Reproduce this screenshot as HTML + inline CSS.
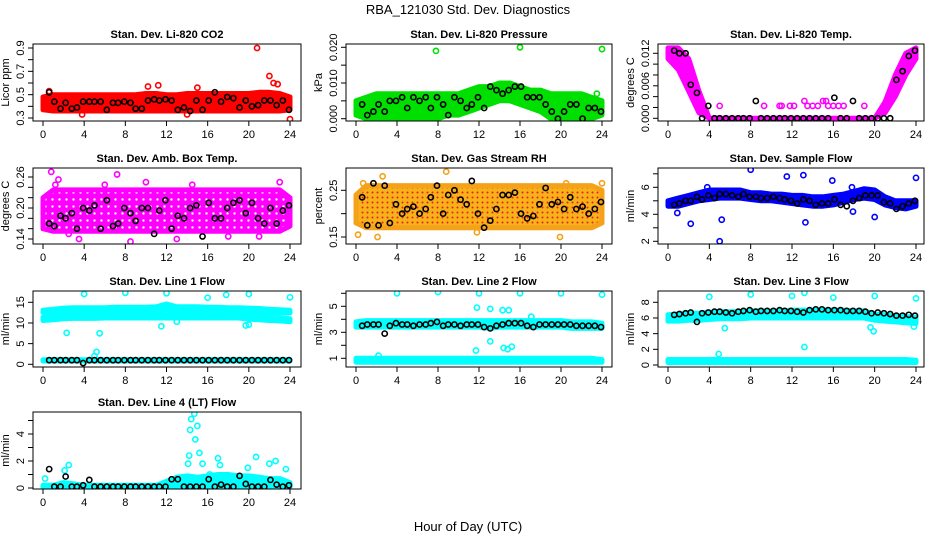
<!DOCTYPE html>
<html><head><meta charset="utf-8"><style>
body{margin:0;background:#fff;}
svg{display:block;font-family:"Liberation Sans",sans-serif;}
</style></head><body>
<svg id="chart" width="936" height="540" viewBox="0 0 936 540">
<defs>
<pattern id="pat-amb" width="7" height="7" patternUnits="userSpaceOnUse">
<rect width="7" height="7" fill="#ff00ff"/>
<circle cx="3.5" cy="3.5" r="1.2" fill="#fff"/>
</pattern>
<pattern id="pat-rh" width="5" height="5" patternUnits="userSpaceOnUse">
<rect width="5" height="5" fill="#f7b21a"/>
<circle cx="2.5" cy="2.5" r="1" fill="#e8201a"/>
</pattern>
</defs>
<rect x="0" y="0" width="936" height="540" fill="#fff"/>
<text x="468" y="14" text-anchor="middle" font-size="13">RBA_121030  Std. Dev. Diagnostics</text>
<text x="468" y="531" text-anchor="middle" font-size="13">Hour of Day (UTC)</text>
</svg>
<script>
const hours=[0,1,2,3,4,5,6,7,8,9,10,11,12,13,14,15,16,17,18,19,20,21,22,23,24];
const blackHours=[0.6,1.1,1.7,2.2,2.8,3.3,3.9,4.5,5.0,5.6,6.2,6.8,7.3,7.9,8.5,9.0,9.6,10.2,10.8,11.3,11.9,12.5,13.1,13.7,14.3,14.9,15.5,16.1,16.7,17.3,17.9,18.5,19.1,19.7,20.3,20.9,21.5,22.1,22.7,23.3,23.9];
const xTicks=[0,4,8,12,16,20,24];

const co2Lo=[0.37,0.36,0.36,0.36,0.36,0.36,0.36,0.36,0.36,0.36,0.36,0.36,0.36,0.36,0.36,0.36,0.36,0.36,0.36,0.36,0.36,0.36,0.36,0.36,0.37];
const co2Hi=[0.48,0.5,0.5,0.5,0.5,0.5,0.5,0.5,0.5,0.5,0.51,0.51,0.5,0.5,0.51,0.51,0.51,0.51,0.51,0.51,0.51,0.52,0.52,0.51,0.48];
const co2Black=[0.52,0.44,0.38,0.43,0.38,0.39,0.44,0.44,0.44,0.44,0.37,0.43,0.43,0.44,0.43,0.38,0.38,0.45,0.46,0.45,0.46,0.45,0.37,0.39,0.36,0.45,0.37,0.45,0.52,0.44,0.48,0.47,0.39,0.45,0.40,0.41,0.45,0.45,0.41,0.45,0.37];
const co2OutT=[20.8,22,22.4,22.8,10.2,11.2,15,24,0.6,3.8,14];
const co2OutV=[0.9,0.66,0.6,0.59,0.57,0.58,0.56,0.29,0.53,0.33,0.33];

const presLo=[0.001,0,0,0,0,0,0,0,0,0.001,0.001,0.002,0.003,0.004,0.005,0.005,0.004,0.003,0.002,0,0,0,0,0,0.001];
const presHi=[0.005,0.006,0.007,0.007,0.007,0.007,0.007,0.007,0.007,0.007,0.007,0.008,0.009,0.009,0.010,0.010,0.009,0.008,0.008,0.007,0.007,0.007,0.007,0.006,0.005];
const presBlack=[0.004,0.001,0.002,0.004,0.002,0.005,0.005,0.006,0.003,0.006,0.005,0.006,0.003,0.006,0.004,0.001,0.006,0.005,0.003,0.004,0.006,0.003,0.009,0.008,0.007,0.008,0.009,0.009,0.006,0.006,0.006,0.004,0.002,0.0,0.002,0.004,0.004,0.0,0.003,0.003,0.002];
const presOutT=[7.8,16,24,23.5];
const presOutV=[0.019,0.020,0.0195,0.007];

const tempLo=[0.011,0.009,0.005,0.001,0,0,0,0,0,0,0,0,0,0,0,0,0,0,0,0,0,0.001,0.004,0.008,0.011];
const tempHi=[0.013,0.013,0.011,0.005,0,0,0,0,0,0,0,0,0,0,0,0,0,0,0,0,0,0.003,0.008,0.012,0.013];
const tempBlack=[0.0125,0.012,0.012,0.0062,0.0047,0,0.0023,0,0,0,0,0,0,0,0.0032,0,0,0,0,0,0,0,0,0,0,0,0,0.0038,0,0,0.0032,0,0,0,0,0,0,0.0071,0.0087,0.0115,0.0125];
const tempOutT=[5,9.3,10.8,11,11.8,12.2,13.2,13.5,14,14.5,15,15.3,15.5,16,16.5,17,19];
const tempOutV=[0.0023,0.0023,0.0023,0.0023,0.0023,0.0023,0.0032,0.0023,0.0023,0.0023,0.0032,0.0032,0.0023,0.0023,0.0023,0.0023,0.0023];

const ambLo=[0.16,0.155,0.155,0.155,0.155,0.155,0.155,0.155,0.155,0.155,0.155,0.155,0.155,0.155,0.155,0.155,0.155,0.155,0.155,0.155,0.155,0.155,0.155,0.155,0.165];
const ambHi=[0.22,0.235,0.235,0.235,0.235,0.235,0.235,0.235,0.235,0.235,0.235,0.235,0.235,0.235,0.235,0.235,0.235,0.235,0.235,0.235,0.235,0.235,0.235,0.235,0.22];
const ambBlack=[0.17,0.165,0.185,0.18,0.19,0.16,0.2,0.195,0.205,0.16,0.215,0.165,0.17,0.2,0.19,0.175,0.2,0.2,0.15,0.195,0.215,0.16,0.185,0.18,0.2,0.205,0.145,0.21,0.18,0.18,0.2,0.21,0.215,0.19,0.21,0.18,0.17,0.2,0.17,0.195,0.205];
const ambOutT=[0.8,1.5,7.2,3.5,8.5,13,1.2,6.0,14.5,21,10,18,2.5,23];
const ambOutV=[0.27,0.255,0.265,0.14,0.135,0.14,0.245,0.245,0.245,0.145,0.25,0.145,0.15,0.25];

const rhLo=[0.18,0.17,0.17,0.17,0.17,0.17,0.17,0.17,0.17,0.17,0.17,0.17,0.17,0.17,0.17,0.17,0.17,0.17,0.17,0.17,0.17,0.17,0.17,0.17,0.18];
const rhHi=[0.24,0.26,0.26,0.26,0.26,0.26,0.26,0.26,0.26,0.26,0.26,0.26,0.26,0.26,0.26,0.26,0.26,0.26,0.26,0.26,0.26,0.26,0.26,0.26,0.25];
const rhBlack=[0.235,0.175,0.265,0.175,0.26,0.18,0.22,0.2,0.21,0.215,0.2,0.21,0.235,0.26,0.2,0.24,0.25,0.23,0.22,0.27,0.2,0.17,0.185,0.21,0.24,0.24,0.245,0.2,0.19,0.195,0.22,0.255,0.22,0.225,0.21,0.235,0.21,0.215,0.2,0.21,0.225];
const rhOutT=[0.2,8.8,2.6,2.1,0.7,19.9,20.5,24,11.8];
const rhOutV=[0.155,0.29,0.28,0.15,0.265,0.15,0.265,0.265,0.16];

const flowLo=[4.6,4.6,4.8,5.0,5.1,5.2,5.2,5.2,5.1,5.0,5.0,4.9,4.8,4.7,4.6,4.6,4.7,4.9,5.1,5.2,5.1,4.7,4.5,4.4,4.6];
const flowHi=[5.0,5.2,5.4,5.6,5.8,5.8,5.8,5.8,5.6,5.6,5.5,5.5,5.4,5.4,5.3,5.3,5.4,5.5,5.7,5.9,5.8,5.3,5.0,5.0,5.0];
const flowBlack=[4.7,4.8,5.0,5.0,5.3,5.1,5.4,5.2,5.5,5.5,5.4,5.3,5.5,5.3,5.3,5.2,5.2,5.3,5.2,5.1,5.0,4.8,5.1,5.0,4.7,4.8,4.8,5.1,4.7,4.6,5.0,5.2,5.4,5.4,5.4,4.9,4.8,4.4,4.6,4.8,5.0];
const flowOutT=[8,11.5,13.1,15.9,17.8,24,5,5.2,2.2,0.9,13.3,17.9,20,3.8];
const flowOutV=[7.3,6.8,6.9,6.5,6.0,6.7,2.0,3.6,3.3,4.1,3.4,4.2,3.8,6.0];

const l1UpLo=[12.5,12.5,12.6,12.7,12.7,12.8,12.8,12.8,12.8,12.8,12.8,12.9,13.2,12.9,12.9,12.9,12.9,12.8,12.8,12.8,12.7,12.6,12.5,12.4,12.4];
const l1UpHi=[13.1,13.3,13.6,13.7,13.7,13.7,13.7,13.8,13.8,13.8,13.8,13.9,14.6,13.9,13.9,13.9,13.8,13.8,13.7,13.7,13.6,13.5,13.3,13.2,13.1];
const l1DnLo=[10.6,10.8,11.0,11.1,11.1,11.1,11.2,11.2,11.2,11.2,11.2,11.2,11.2,11.2,11.2,11.2,11.2,11.2,11.2,11.2,10.9,10.8,10.6,10.5,10.3];
const l1DnHi=[11.4,11.6,11.8,11.9,11.9,12.0,12.0,12.0,12.0,12.0,12.0,12.0,12.0,12.0,12.0,12.0,12.0,12.0,12.0,12.0,11.6,11.6,11.4,11.2,11.0];
const l1BaseLo=[0.8,0.8,0.8,0.8,0.8,0.8,0.8,0.8,0.8,0.8,0.8,0.8,0.8,0.8,0.8,0.8,0.8,0.8,0.8,0.8,0.8,0.8,0.8,0.8,0.8];
const l1BaseHi=[1.1,1.1,1.1,1.1,1.1,1.1,1.1,1.1,1.1,1.1,1.1,1.1,1.1,1.1,1.1,1.1,1.1,1.1,1.1,1.1,1.1,1.1,1.1,1.1,1.1];
const l1Black=[1,1,1,1,1,1,0.3,1,1,1,1,1,1,1,1,1,1,1,1,1,1,1,1,1,1,1,1,1,1,1,1,1,1,1,1,1,1,1,1,1,1];
const l1OutT=[4,8,12,16,17.8,20,24,2.3,5.5,5.2,5,11.5,19.7,20,13];
const l1OutV=[17,17.3,17.2,16.1,16.8,17,16.2,7.6,7.5,3.0,2.0,9.2,9.4,9.6,10.3];

const l2UpLo=[3.4,3.4,3.4,3.4,3.4,3.4,3.4,3.4,3.4,3.4,3.4,3.4,3.4,3.3,3.4,3.4,3.4,3.4,3.4,3.4,3.4,3.3,3.3,3.3,3.3];
const l2UpHi=[3.8,3.9,3.9,3.9,3.9,3.9,3.9,3.9,3.9,3.9,3.9,3.9,3.9,3.9,3.9,3.9,3.9,3.9,3.9,3.9,3.9,3.8,3.8,3.8,3.7];
const l2DnLo=[0.7,0.7,0.7,0.7,0.7,0.7,0.7,0.7,0.7,0.7,0.7,0.7,0.7,0.7,0.7,0.7,0.7,0.7,0.7,0.7,0.7,0.7,0.7,0.7,0.7];
const l2DnHi=[1.0,1.0,1.0,1.0,1.0,1.0,1.0,1.0,1.0,1.0,1.0,1.0,1.0,1.0,1.0,1.0,1.0,1.0,1.0,1.0,1.0,1.0,1.0,1.0,0.9];
const l2Black=[3.5,3.6,3.6,3.6,2.9,3.5,3.7,3.6,3.6,3.5,3.6,3.6,3.7,3.8,3.5,3.6,3.6,3.5,3.6,3.6,3.6,3.4,3.3,3.5,3.6,3.7,3.7,3.7,3.5,3.4,3.6,3.6,3.6,3.6,3.6,3.6,3.5,3.5,3.5,3.5,3.4];
const l2OutT=[4,8,12,16,20,24,11.7,13.1,14.4,14.8,15.2,11.8,13.1,14.3,14.9,17.1,2.2];
const l2OutV=[6,6.1,6,6,6,5.9,1.6,2.3,1.8,1.7,1.9,4.9,4.8,4.7,4.7,4.2,1.2];

const l3UpLo=[5.6,5.6,5.7,5.7,5.8,5.9,5.9,5.9,6.0,6.0,6.0,6.0,6.0,6.0,6.0,6.0,6.0,6.0,6.0,6.0,5.7,5.6,5.5,5.4,5.3];
const l3UpHi=[6.4,6.5,6.6,6.6,6.7,6.8,6.8,6.8,6.9,6.9,6.9,6.9,7.0,7.0,7.0,7.0,7.0,7.0,6.9,6.9,6.5,6.4,6.3,6.2,6.1];
const l3DnLo=[0.3,0.3,0.3,0.3,0.3,0.3,0.3,0.3,0.3,0.3,0.3,0.3,0.3,0.3,0.3,0.3,0.3,0.3,0.3,0.3,0.3,0.3,0.3,0.3,0.3];
const l3DnHi=[0.7,0.7,0.7,0.7,0.7,0.7,0.7,0.7,0.7,0.7,0.7,0.7,0.7,0.7,0.7,0.7,0.7,0.7,0.7,0.7,0.7,0.7,0.7,0.7,0.6];
const l3Black=[6.4,6.5,6.6,6.7,5.5,6.6,6.7,6.8,6.8,6.7,6.6,6.8,6.9,7.0,6.8,6.9,6.9,6.9,7.0,6.9,6.9,6.8,6.7,7.0,7.1,7.1,7.0,7.0,7.0,6.9,6.9,6.9,6.8,6.6,6.7,6.6,6.5,6.3,6.3,6.4,6.3];
const l3OutT=[4,8,12,16,20,24,13.2,4.9,13.2,19.6,19.9,5.5,23.8];
const l3OutV=[8.7,9,8.8,8.6,8.8,8.5,2.3,1.4,9.2,4.8,4.3,4.7,4.9];

const l4Lo=[0.05,0.05,0.05,0.05,0.05,0.05,0.05,0.05,0.05,0.05,0.05,0.05,0.05,0.05,0.05,0.05,0.05,0.05,0.05,0.05,0.05,0.05,0.05,0.05,0.05];
const l4Hi=[0.2,0.2,0.4,0.3,0.2,0.2,0.2,0.2,0.2,0.2,0.2,0.2,0.5,0.8,0.9,0.8,0.9,1.0,1.0,0.9,0.9,0.8,0.7,0.7,0.4];
const l4Black=[1.4,0.1,0.1,0.85,0.1,0.1,0.2,0.6,0.1,0.1,0.1,0.1,0.1,0.1,0.1,0.1,0.1,0.1,0.1,0.1,0.1,0.65,0.65,0.1,0.1,0.1,0.1,0.65,0.1,0.25,0.1,0.1,0.9,0.3,0.1,0.1,0.1,0.6,0.25,0.1,0.2];
const l4OutT=[14.7,14.4,14.3,15,14.8,14.2,15.2,15.5,14.1,17,17.2,2.5,2.1,20.7,22,22.6,23.6,0.2,16.2,19.9];
const l4OutV=[5.5,5.1,4.3,4.6,3.6,2.4,2.6,1.8,1.8,2.2,1.7,1.7,1.3,2.3,1.8,2.0,1.4,0.7,1.0,1.5];

const ticksCO2=[0.3,0.4,0.5,0.6,0.7,0.8,0.9], labelsCO2=["0.3","","0.5","","0.7","","0.9"];
const ticksPres=[0,0.005,0.01,0.015,0.02], labelsPres=["0.000","","0.010","","0.020"];
const ticksTemp=[0,0.002,0.004,0.006,0.008,0.010,0.012], labelsTemp=["0.000","","","0.006","","","0.012"];
const ticksAmb=[0.14,0.16,0.18,0.2,0.22,0.24,0.26], labelsAmb=["0.14","","","0.20","","","0.26"];
const ticksRH=[0.15,0.2,0.25], labelsRH=["0.15","","0.25"];
const ticksFlow=[2,3,4,5,6,7], labelsFlow=["2","","4","","6",""];
const ticksL1=[0,5,10,15], labelsL1=["0","5","10","15"];
const ticksL2=[1,2,3,4,5,6], labelsL2=["1","","3","","5",""];
const ticksL3=[0,2,4,6,8], labelsL3=["0","2","4","6","8"];
const ticksL4=[0,1,2,3,4,5], labelsL4=["0","","2","","4",""];

const panels=[
 {name:"co2",title:"Stan. Dev. Li-820 CO2",yt:"Licor ppm",col:0,row:0,color:"#ff0000",cal:[0.3,118,0.9,48],ticks:ticksCO2,labels:labelsCO2,bands:[[co2Lo,co2Hi]],black:co2Black,outT:co2OutT,outV:co2OutV},
 {name:"pressure",title:"Stan. Dev. Li-820 Pressure",yt:"kPa",col:1,row:0,color:"#00e000",cal:[0,118.7,0.02,47.3],ticks:ticksPres,labels:labelsPres,bands:[[presLo,presHi]],black:presBlack,outT:presOutT,outV:presOutV},
 {name:"temp",title:"Stan. Dev. Li-820 Temp.",yt:"degrees C",col:2,row:0,color:"#ff00ff",cal:[0,118.3,0.012,53.3],ticks:ticksTemp,labels:labelsTemp,bands:[[tempLo,tempHi]],black:tempBlack,outT:tempOutT,outV:tempOutV},
 {name:"amb-box-temp",title:"Stan. Dev. Amb. Box Temp.",yt:"degrees C",col:0,row:1,color:"#ff00ff",fill:"url(#pat-amb)",cal:[0.14,239,0.26,177],ticks:ticksAmb,labels:labelsAmb,bands:[[ambLo,ambHi]],black:ambBlack,outT:ambOutT,outV:ambOutV},
 {name:"gas-rh",title:"Stan. Dev. Gas Stream RH",yt:"percent",col:1,row:1,color:"#f5a21a",fill:"url(#pat-rh)",cal:[0.15,237,0.25,190.3],ticks:ticksRH,labels:labelsRH,bands:[[rhLo,rhHi]],black:rhBlack,outT:rhOutT,outV:rhOutV},
 {name:"sample-flow",title:"Stan. Dev. Sample Flow",yt:"ml/min",col:2,row:1,color:"#0000ff",cal:[2,241.3,6,187.3],ticks:ticksFlow,labels:labelsFlow,bands:[[flowLo,flowHi]],black:flowBlack,outT:flowOutT,outV:flowOutV},
 {name:"line1-flow",title:"Stan. Dev. Line 1 Flow",yt:"ml/min",col:0,row:2,color:"#00ffff",cal:[0,364.3,15,302.3],ticks:ticksL1,labels:labelsL1,bands:[[l1UpLo,l1UpHi],[l1DnLo,l1DnHi],[l1BaseLo,l1BaseHi]],black:l1Black,outT:l1OutT,outV:l1OutV},
 {name:"line2-flow",title:"Stan. Dev. Line 2 Flow",yt:"ml/min",col:1,row:2,color:"#00ffff",cal:[1,358.3,5,306.3],ticks:ticksL2,labels:labelsL2,bands:[[l2UpLo,l2UpHi],[l2DnLo,l2DnHi]],black:l2Black,outT:l2OutT,outV:l2OutV},
 {name:"line3-flow",title:"Stan. Dev. Line 3 Flow",yt:"ml/min",col:2,row:2,color:"#00ffff",cal:[0,365,8,302.3],ticks:ticksL3,labels:labelsL3,bands:[[l3UpLo,l3UpHi],[l3DnLo,l3DnHi]],black:l3Black,outT:l3OutT,outV:l3OutV},
 {name:"line4-flow",title:"Stan. Dev. Line 4 (LT) Flow",yt:"ml/min",col:0,row:3,color:"#00ffff",cal:[0,488,4,434],ticks:ticksL4,labels:labelsL4,bands:[[l4Lo,l4Hi]],black:l4Black,outT:l4OutT,outV:l4OutV}
];
const colX=[[33,301,43,290],[346,612,356,602],[658,924,668,916]];
const rowY=[[44,121],[168,244],[291,367],[412,489]];
const NS="http://www.w3.org/2000/svg";
const svg=document.getElementById("chart");
function mk(tag,attrs,parent){const e=document.createElementNS(NS,tag);for(const k in attrs)e.setAttribute(k,attrs[k]);(parent||svg).appendChild(e);return e;}

panels.forEach(p=>{
  const [bl,br,x0,x24]=colX[p.col];const [bt,bb]=rowY[p.row];
  const xs=t=>x0+(x24-x0)*t/24;
  const [v1,p1,v2,p2]=p.cal;const ys=v=>p1+(v-v1)*(p2-p1)/(v2-v1);
  const g=mk("g",{});
  
  
  const clipId="clip-"+p.name;
  const cp=mk("clipPath",{id:clipId},g);mk("rect",{x:bl,y:bt,width:br-bl,height:bb-bt},cp);
  const plot=mk("g",{"clip-path":"url(#"+clipId+")"},g);
  p.bands.forEach((b,bi)=>{
    let d="";hours.forEach((h,i)=>{d+=(i?"L":"M")+xs(h).toFixed(1)+","+ys(b[1][i]).toFixed(1);});
    for(let i=hours.length-1;i>=0;i--)d+="L"+xs(hours[i]).toFixed(1)+","+ys(b[0][i]).toFixed(1);
    const path=mk("path",{d:d+"Z",fill:p.fill||p.color,stroke:p.color,"stroke-width":5,"stroke-linejoin":"round"},plot);
    
    
  });
  p.outT.forEach((t,i)=>{
    const c=mk("circle",{cx:xs(t),cy:ys(p.outV[i]),r:2.6,fill:"none",stroke:p.color,"stroke-width":1.6},plot);
    
    
  });
  blackHours.forEach((t,i)=>{
    const c=mk("circle",{cx:xs(t),cy:ys(p.black[i]),r:2.6,fill:"none",stroke:"#000","stroke-width":1.6},plot);
    
    
  });
  const box=mk("rect",{x:bl,y:bt,width:br-bl,height:bb-bt,fill:"none",stroke:"#000","stroke-width":1},g);
  
  
  const ttl=mk("text",{x:(bl+br)/2,y:bt-6,"text-anchor":"middle","font-size":11,"font-weight":"bold"},g);
  ttl.textContent=p.title;
  
  
  xTicks.forEach(t=>{
    mk("line",{x1:xs(t),x2:xs(t),y1:bb,y2:bb+5,stroke:"#000"},g);
    const lb=mk("text",{x:xs(t),y:bb+17,"text-anchor":"middle","font-size":11},g);
    lb.textContent=t;
    
    
  });
  p.ticks.forEach((v,i)=>{
    const y=ys(v);
    mk("line",{x1:bl-5,x2:bl,y1:y,y2:y,stroke:"#000"},g);
    if(p.labels[i]){
      const lb=mk("text",{x:bl-9,y:y,"text-anchor":"middle","font-size":11,transform:"rotate(-90 "+(bl-9)+" "+y+")"},g);
      lb.textContent=p.labels[i];
      
      
    }
  });
  const cy=(bt+bb)/2;
  const yt=mk("text",{x:bl-24,y:cy,"text-anchor":"middle","font-size":11,transform:"rotate(-90 "+(bl-24)+" "+cy+")"},g);
  yt.textContent=p.yt;
  
  
});
</script>
</body></html>
